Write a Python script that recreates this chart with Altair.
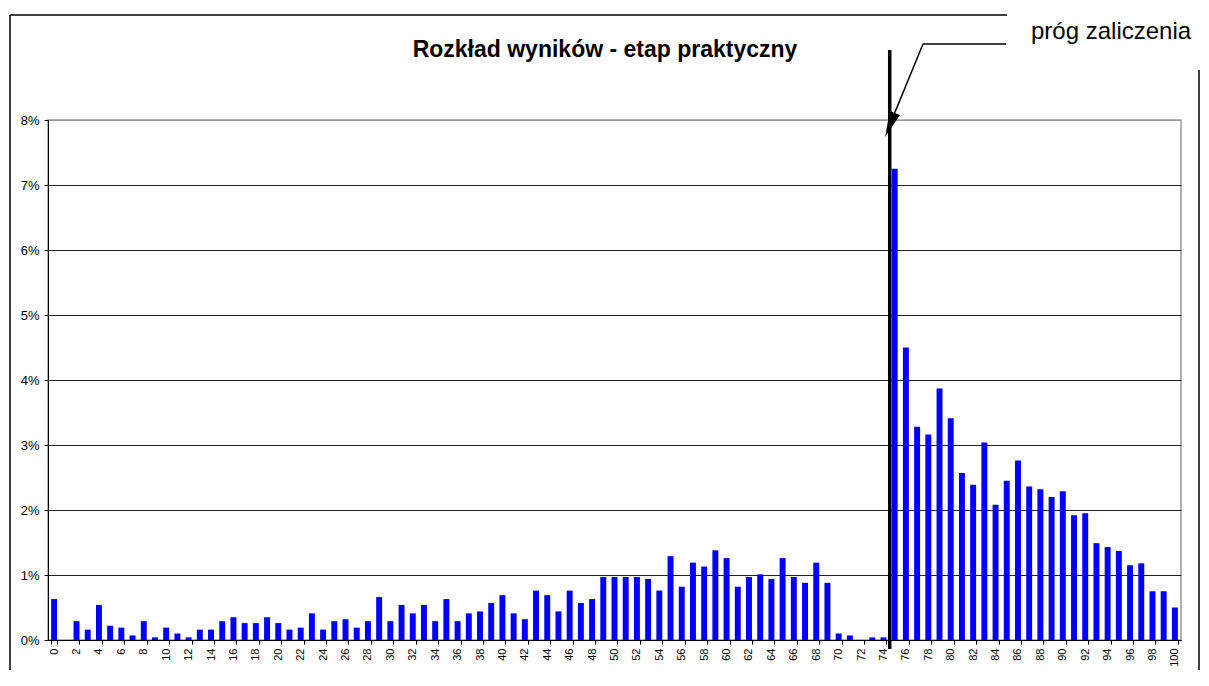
import altair as alt
import pandas as pd

# Score categories (0..100 points) and share of participants (%)
scores = list(range(0, 101))
shares = [0.63, 0.00, 0.29, 0.16, 0.54, 0.22, 0.19, 0.07, 0.29, 0.04,
          0.19, 0.10, 0.04, 0.16, 0.16, 0.29, 0.35, 0.26, 0.26, 0.35,
          0.26, 0.16, 0.19, 0.41, 0.16, 0.29, 0.32, 0.19, 0.29, 0.66,
          0.29, 0.54, 0.41, 0.54, 0.29, 0.63, 0.29, 0.41, 0.44, 0.57,
          0.69, 0.41, 0.32, 0.76, 0.69, 0.44, 0.76, 0.57, 0.63, 0.97,
          0.97, 0.97, 0.97, 0.94, 0.76, 1.29, 0.82, 1.19, 1.13, 1.38,
          1.26, 0.82, 0.97, 1.01, 0.94, 1.26, 0.97, 0.88, 1.19, 0.88,
          0.10, 0.07, 0.00, 0.04, 0.04, 7.25, 4.50, 3.28, 3.16, 3.87,
          3.41, 2.57, 2.39, 3.04, 2.08, 2.45, 2.76, 2.36, 2.32, 2.20,
          2.29, 1.92, 1.95, 1.49, 1.43, 1.37, 1.15, 1.18, 0.75, 0.75,
          0.50]
x_tick_labels = list(range(0, 101, 2))
y_tick_values = list(range(0, 9))
threshold = [75]
title_text = "Rozkład wyników - etap praktyczny"
note_text = "próg zaliczenia"

df = pd.DataFrame({"score": scores, "pct": shares})
one = alt.Data(values=[{}])

FONT = "Liberation Sans"

x_scale = alt.Scale(paddingInner=0.47, paddingOuter=0.28)

bars = alt.Chart(df).mark_bar(color="#0000FF").encode(
    x=alt.X("score:O", scale=x_scale, sort="ascending",
            axis=alt.Axis(values=x_tick_labels, labelAngle=270, labelFontSize=11,
                          labelColor="black", labelFont=FONT, tickBand="extent",
                          tickSize=4, tickColor="black", domainColor="black",
                          labelPadding=4, title=None, grid=False, labelOverlap=False)),
    y=alt.Y("pct:Q", scale=alt.Scale(domain=[0, 8], nice=False),
            axis=alt.Axis(values=y_tick_values, labelExpr="datum.value + '%'",
                          grid=True,
                          gridColor={"condition": {"test": "datum.value >= 8", "value": "#999999"},
                                     "value": "#222222"},
                          tickSize=4, tickColor="black", domainColor="black",
                          labelFontSize=13, labelColor="black", labelFont=FONT,
                          labelPadding=5, title=None)),
)

thr = alt.Chart(pd.DataFrame({"score": threshold})).mark_rule(
    color="black", strokeWidth=3.5, xOffset=-2
).encode(
    x=alt.X("score:O", bandPosition=0),
    y=alt.value(-70),
    y2=alt.value(529),
)

title = alt.Chart(pd.DataFrame({"t": [title_text]})).mark_text(
    font=FONT, fontSize=23, fontWeight="bold", align="center",
    baseline="alphabetic", color="black"
).encode(x=alt.value(557), y=alt.value(-63), text="t:N")

note = alt.Chart(pd.DataFrame({"t": [note_text]})).mark_text(
    font=FONT, fontSize=24, align="left", baseline="alphabetic", color="black"
).encode(x=alt.value(983), y=alt.value(-81), text="t:N")

# callout line
call_h = alt.Chart(one).mark_rule(color="black", strokeWidth=1.5).encode(
    x=alt.value(875), x2=alt.value(958), y=alt.value(-76))
call_d = alt.Chart(one).mark_rule(color="black", strokeWidth=1.5).encode(
    x=alt.value(875), y=alt.value(-76), x2=alt.value(845), y2=alt.value(-3))
arrow = alt.Chart(one).mark_point(
    shape="M0,1L-0.42,-1L0.42,-1Z", filled=True, color="black", opacity=1,
    size=676, angle=22, strokeWidth=0
).encode(x=alt.value(842), y=alt.value(5))

# outer chart frame
frame_top = alt.Chart(one).mark_rule(color="black", strokeWidth=1.5).encode(
    x=alt.value(-38), x2=alt.value(959), y=alt.value(-105))
frame_left = alt.Chart(one).mark_rule(color="black", strokeWidth=1.5).encode(
    x=alt.value(-38), y=alt.value(-105), y2=alt.value(566))
frame_right = alt.Chart(one).mark_rule(color="black", strokeWidth=1.5).encode(
    x=alt.value(1151), y=alt.value(-50), y2=alt.value(566))

chart = alt.layer(
    bars, thr, title, note, call_h, call_d, arrow, frame_top, frame_left, frame_right
).properties(
    width=1133, height=520,
    padding={"left": 40, "top": 112, "right": 19, "bottom": 30},
    autosize=alt.AutoSizeParams(type="none"),
    background="white",
).configure_view(
    stroke="#999999", strokeWidth=1.5
)

chart.save("out.html", embed_options={"renderer": "svg", "actions": False})
